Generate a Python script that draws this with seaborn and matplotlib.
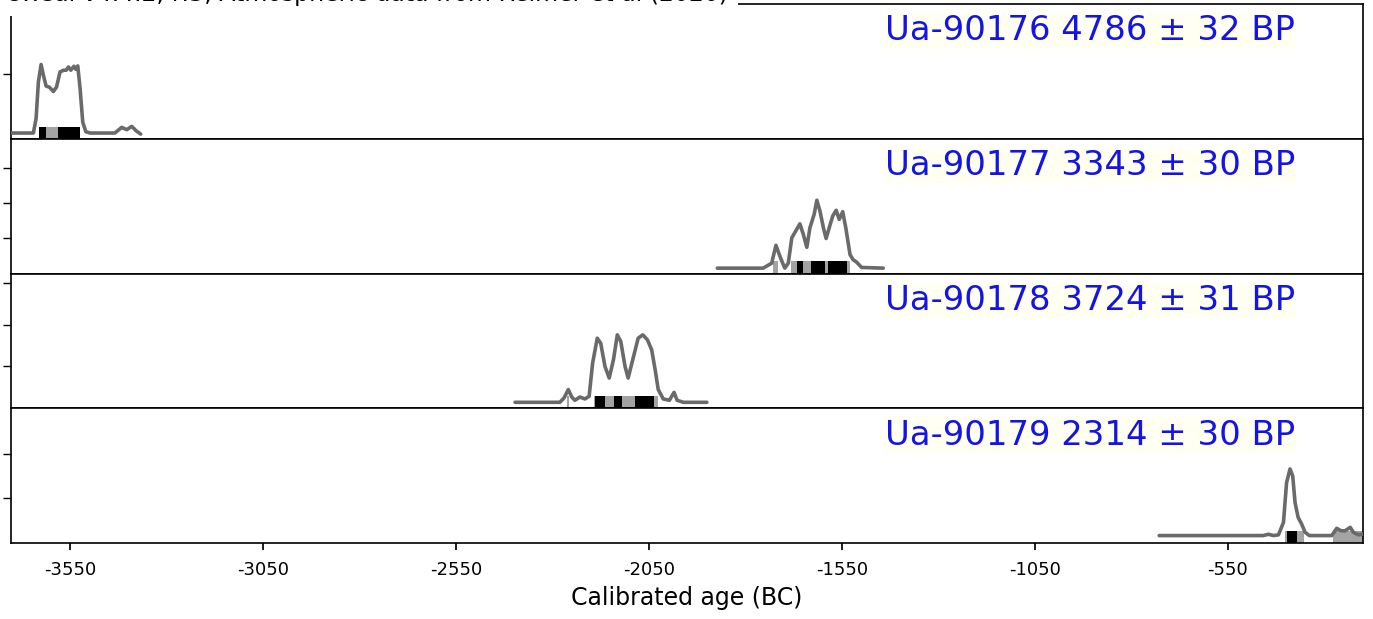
import matplotlib
matplotlib.use("Agg")
import matplotlib.pyplot as plt
import seaborn as sns

# Sample labels
labels = ["Ua-90176 4786 ± 32 BP", "Ua-90177 3343 ± 30 BP",
          "Ua-90178 3724 ± 31 BP", "Ua-90179 2314 ± 30 BP"]

# Calibrated probability curves (year BC as negative number, probability)
ua176_year = [-3701, -3645, -3638, -3632, -3625, -3619, -3612, -3604, -3593, -3585,
              -3576, -3567, -3560, -3554, -3548, -3540, -3535, -3530, -3524, -3517,
              -3509, -3498, -3434, -3416, -3403, -3390, -3379, -3367]
ua176_prob = [0.00089, 0.00089, 0.00313, 0.0088, 0.01152, 0.00984, 0.00817, 0.00802, 0.00734, 0.00802,
              0.01036, 0.01063, 0.01063, 0.01114, 0.01063, 0.01125, 0.01078, 0.0113, 0.00781, 0.00255,
              0.00109, 0.00089, 0.00089, 0.00177, 0.00141, 0.00192, 0.00125, 0.00073]

ua177_year = [-1873, -1754, -1732, -1721, -1709, -1698, -1689, -1680, -1669, -1659,
              -1650, -1641, -1633, -1622, -1615, -1607, -1598, -1591, -1583, -1574,
              -1565, -1557, -1548, -1540, -1529, -1521, -1512, -1499, -1443]
ua177_prob = [0.00076, 0.00076, 0.00147, 0.004, 0.00219, 0.00076, 0.00147, 0.00504, 0.0061, 0.00704,
              0.00553, 0.00371, 0.00647, 0.00839, 0.01039, 0.00886, 0.00647, 0.00496, 0.00647, 0.00814,
              0.00896, 0.00767, 0.00876, 0.00647, 0.00267, 0.00196, 0.00161, 0.00086, 0.00076]

ua178_year = [-2397, -2281, -2270, -2259, -2250, -2242, -2229, -2216, -2205, -2196,
              -2184, -2175, -2164, -2153, -2142, -2132, -2123, -2112, -2104, -2092,
              -2078, -2066, -2054, -2043, -2034, -2026, -2013, -1997, -1985, -1977,
              -1961, -1900]
ua178_prob = [0.00071, 0.00071, 0.00123, 0.00223, 0.00134, 0.00095, 0.00134, 0.00111, 0.00143, 0.00539,
              0.00837, 0.00777, 0.005, 0.00361, 0.0058, 0.00877, 0.00798, 0.005, 0.00361, 0.0058,
              0.00837, 0.00877, 0.00818, 0.00699, 0.00461, 0.00223, 0.00111, 0.00095, 0.0019, 0.00095,
              0.00071, 0.00071]

ua179_year = [-728, -458, -445, -432, -419, -406, -398, -389, -382, -376,
              -368, -359, -350, -339, -281, -268, -258, -247, -233, -225,
              -212, -199]
ua179_prob = [0.00333, 0.00333, 0.00391, 0.00333, 0.00364, 0.00924, 0.027, 0.0332, 0.03, 0.01812,
              0.01146, 0.00852, 0.0048, 0.00333, 0.00333, 0.00657, 0.00555, 0.00542, 0.00701, 0.0048,
              0.00364, 0.00408]

# 95.4% and 68.2% ranges
range95 = [[(-3630, -3524)],
           [(-1728, -1715), (-1683, -1529)],
           [(-2262, -2256), (-2193, -2026)],
           [(-401, -353), (-277, -199)]]
range68 = [[(-3630, -3613), (-3580, -3524)],
           [(-1666, -1652), (-1631, -1594), (-1585, -1538)],
           [(-2190, -2164), (-2141, -2121), (-2086, -2037)],
           [(-398, -372)]]

years = [ua176_year, ua177_year, ua178_year, ua179_year]
probs = [ua176_prob, ua177_prob, ua178_prob, ua179_prob]
ytops = [0.0209, 0.0191, 0.0161, 0.0604]
yticks = [[0.01, 0.02], [0.005, 0.01, 0.015], [0.005, 0.01, 0.015], [0.02, 0.04]]
xticks = [-3550, -3050, -2550, -2050, -1550, -1050, -550]

sns.set_theme(style="ticks", rc={"text.color": "black", "axes.labelcolor": "black",
                                 "xtick.color": "black", "ytick.color": "black"})
plt.rcParams["font.family"] = ["DejaVu Sans"]

fig, axes = plt.subplots(4, 1, sharex=True, figsize=(13.73, 6.19), dpi=100)
fig.subplots_adjust(left=0.008, right=0.9927, top=0.9935, bottom=0.1228, hspace=0)

for i, ax in enumerate(axes):
    for a, b in range95[i]:
        ax.axvspan(a, b, ymin=0, ymax=0.09, color="#a3a3a3", lw=0, zorder=2)
    for a, b in range68[i]:
        ax.axvspan(a, b, ymin=0, ymax=0.09, color="black", lw=0, zorder=2)
    sns.lineplot(x=years[i], y=probs[i], ax=ax, color="#6a6a6a", linewidth=2.6,
                 estimator=None, zorder=3, solid_joinstyle="round")
    ax.set_ylim(0, ytops[i])
    ax.set_yticks(yticks[i])
    ax.tick_params(axis="y", labelleft=False, length=6, width=1)
    ax.text(0.9498, 0.80, labels[i], transform=ax.transAxes, ha="right", va="center",
            fontsize=24.4, color="#1414e6",
            bbox=dict(facecolor="#fffff2", edgecolor="none", pad=1))
    for s in ax.spines.values():
        s.set_color("black")
        s.set_linewidth(1.2)
    ax.set_ylabel("")

ax = axes[-1]
ax.set_xlim(-3703, -200)
ax.set_xticks(xticks)
ax.set_xticklabels([str(t) for t in xticks])
ax.tick_params(axis="x", labelsize=13, length=5, pad=8)
ax.set_xlabel("Calibrated age (BC)", fontsize=17, labelpad=5)

# header line, mostly cut off by the top edge as in the original crop
fig.text(5 / 1373, 1 - 1.5 / 619, "OxCal v4.4.2; r:5, Atmospheric data from Reimer et al (2020)",
         fontsize=17, ha="left", va="baseline",
         bbox=dict(facecolor="white", edgecolor="none", pad=7))

plt.savefig("out.png", dpi=100)
